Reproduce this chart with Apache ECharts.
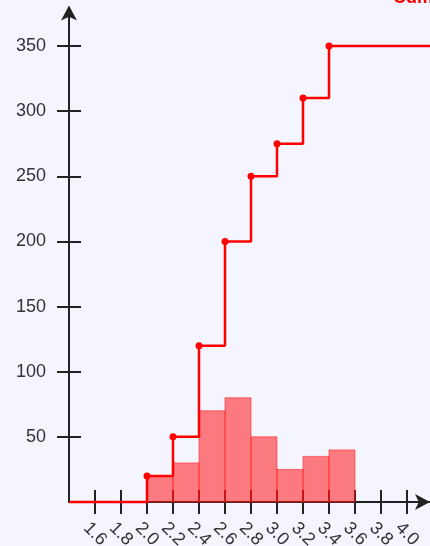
<!DOCTYPE html>
<html>
<head>
<meta charset="utf-8">
<script src="https://cdn.jsdelivr.net/npm/echarts@6/dist/echarts.min.js"></script>
<style>
html,body{margin:0;padding:0;background:#f5f5ff;}
#c{width:430px;height:546px;}
</style>
</head>
<body>
<div id="c"></div>
<script>
// ---- data ----
const binStarts = [2.0, 2.2, 2.4, 2.6, 2.8, 3.0, 3.2, 3.4];
const binWidth = 0.2;
const counts = [20, 30, 70, 80, 50, 25, 35, 40];
const cumulative = [20, 50, 120, 200, 250, 275, 310, 350];
const xTicks = [1.6, 1.8, 2.0, 2.2, 2.4, 2.6, 2.8, 3.0, 3.2, 3.4, 3.6, 3.8, 4.0];
const yTicks = [50, 100, 150, 200, 250, 300, 350];
const xMin = 1.4, xMax = 4.2;
const yMin = 0, yMax = 375;
const titleText = 'Cumulative Frequency';

const axisColor = '#222';
const labelColor = '#333';
const font = 'Liberation Sans, Arial, Helvetica, sans-serif';

const chart = echarts.init(document.getElementById('c'), null, {renderer: 'canvas'});

const stepData = [{value: [xMin, 0], symbol: 'none'}]
  .concat(binStarts.map((x, i) => ({value: [x, cumulative[i]]})))
  .concat([{value: [xMax, cumulative[cumulative.length - 1]], symbol: 'none'}]);

const barData = binStarts.map((x, i) => [x, counts[i]]);

function xAxisCfg(inside, main) {
  return {
    type: 'value', min: xMin, max: xMax, position: 'bottom',
    splitLine: {show: false},
    axisLine: main ? {show: true, onZero: false, symbol: ['none', 'arrow'], symbolSize: [12, 15], symbolOffset: [0, -3],
      lineStyle: {color: axisColor, width: 2}} : {show: false, onZero: false},
    axisTick: {show: true, inside: inside, length: 12, customValues: xTicks, lineStyle: {color: axisColor, width: 2}},
    axisLabel: main ? {show: true, customValues: xTicks, rotate: -45, margin: 32, align: 'center', verticalAlign: 'middle',
      color: labelColor, fontSize: 18, fontFamily: font, formatter: v => v.toFixed(1)} : {show: false}
  };
}
function yAxisCfg(inside, main) {
  return {
    type: 'value', min: yMin, max: yMax, position: 'left',
    splitLine: {show: false},
    axisLine: main ? {show: true, onZero: false, symbol: ['none', 'arrow'], symbolSize: [12, 15], symbolOffset: [0, 8],
      lineStyle: {color: axisColor, width: 2}} : {show: false, onZero: false},
    axisTick: {show: true, inside: inside, length: 12, customValues: yTicks, lineStyle: {color: axisColor, width: 2}},
    axisLabel: main ? {show: true, customValues: yTicks, margin: 23, color: labelColor, fontSize: 18, fontFamily: font} : {show: false}
  };
}

chart.setOption({
  backgroundColor: '#f5f5ff',
  animation: false,
  graphic: [{
    type: 'text', x: 393, y: 7.5, z: 10,
    style: {text: titleText, fill: '#ff0000', fontSize: 18, fontWeight: 'bold', fontFamily: font,
      align: 'left', verticalAlign: 'bottom'}
  }],
  grid: {left: 69, right: -3, top: 13.4, bottom: 44, containLabel: false, outerBoundsMode: 'none'},
  xAxis: [xAxisCfg(false, true), xAxisCfg(true, false)],
  yAxis: [yAxisCfg(false, true), yAxisCfg(true, false)],
  series: [
    {
      type: 'custom', xAxisIndex: 0, yAxisIndex: 0, z: 1,
      data: barData,
      renderItem: function (params, api) {
        const x0 = api.value(0), v = api.value(1);
        const p1 = api.coord([x0, v]);
        const p2 = api.coord([x0 + binWidth, 0]);
        return {
          type: 'rect',
          shape: {x: p1[0], y: p1[1], width: p2[0] - p1[0], height: p2[1] - p1[1]},
          style: {fill: 'rgba(255,0,0,0.5)', stroke: 'rgba(255,30,30,0.55)', lineWidth: 1}
        };
      }
    },
    {
      type: 'line', xAxisIndex: 0, yAxisIndex: 0, z: 3,
      step: 'end',
      data: stepData,
      symbol: 'circle', symbolSize: 7,
      clip: false,
      itemStyle: {color: '#ff0000'},
      lineStyle: {color: '#ff0000', width: 2.5}
    }
  ]
});
</script>
</body>
</html>
